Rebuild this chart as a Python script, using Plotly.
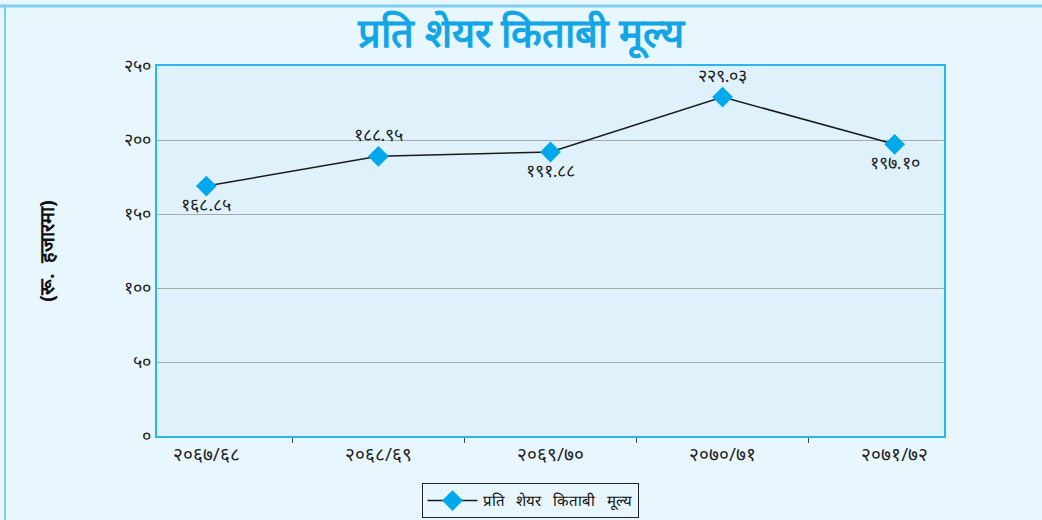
import plotly.graph_objects as go

categories = ["२०६७/६८", "२०६८/६९", "२०६९/७०", "२०७०/७१", "२०७१/७२"]
values = [168.85, 188.95, 191.88, 229.03, 197.10]
value_labels = ["१६८.८५", "१८८.९५", "१९१.८८", "२२९.०३", "१९७.१०"]
label_positions = ["bottom center", "top center", "bottom center", "top center", "bottom center"]
y_tickvals = [0, 50, 100, 150, 200, 250]
y_ticktext = ["०", "५०", "१००", "१५०", "२००", "२५०"]
series_name = "प्रति   शेयर   किताबी   मूल्य"
title_text = "प्रति शेयर किताबी मूल्य"
y_title = "(रू.  हजारमा)"

fig = go.Figure()
fig.add_trace(go.Scatter(
    x=categories, y=values, name=series_name,
    mode="lines+markers+text",
    line=dict(color="#1a1a1a", width=1.5),
    marker=dict(symbol="diamond", size=16, color="#00a9ec"),
    text=value_labels, textposition=label_positions,
    textfont=dict(size=18, color="#222222"),
    showlegend=True,
))

fig.update_layout(
    width=1042, height=520,
    paper_bgcolor="#e8f6fd",
    plot_bgcolor="#dff1fb",
    margin=dict(l=157, r=98, t=66, b=84, autoexpand=False),
    title=dict(text="<b>" + title_text + "</b>", x=0.5, xanchor="center",
               yref="container", y=1 - 33 / 520, yanchor="middle",
               font=dict(size=40, color="#12a6e6")),
    xaxis=dict(
        type="category", showgrid=False, zeroline=False, automargin=False,
        showline=True, linecolor="#2bb5ea", linewidth=2, mirror=True,
        ticks="outside", ticklen=5, tickcolor="#444", tickson="boundaries",
        tickfont=dict(size=19, color="#222"),
    ),
    yaxis=dict(
        range=[0, 250], tickvals=y_tickvals, ticktext=y_ticktext, automargin=False,
        showgrid=True, gridcolor="#a8a8a8", gridwidth=1, zeroline=False,
        showline=True, linecolor="#2bb5ea", linewidth=2, mirror=True,
        tickfont=dict(size=18, color="#222"),
        title=dict(text="<b>" + y_title + "</b>", font=dict(size=20, color="#111"), standoff=64),
    ),
    legend=dict(
        orientation="h", x=(530 - 157) / 787, xanchor="center", y=-0.128, yanchor="top",
        bgcolor="#e8f6fd", bordercolor="#222", borderwidth=1,
        font=dict(size=15, color="#111"), itemwidth=50,
    ),
)
# outer frame of the figure
fig.add_shape(type="line", xref="paper", yref="paper", x0=-157/787, x1=(787+98)/787,
              y0=(370+66)/370 - 0.016, y1=(370+66)/370 - 0.016,
              line=dict(color="#7fcdf0", width=3))
fig.add_shape(type="line", xref="paper", yref="paper", x0=-152/787, x1=-152/787,
              y0=-84/370, y1=(370+66)/370 - 0.016,
              line=dict(color="#7fcdf0", width=2))

fig.write_html("out.html", config={"displayModeBar": False},
               post_script="document.body.style.margin='0';document.body.style.overflow='hidden';")
